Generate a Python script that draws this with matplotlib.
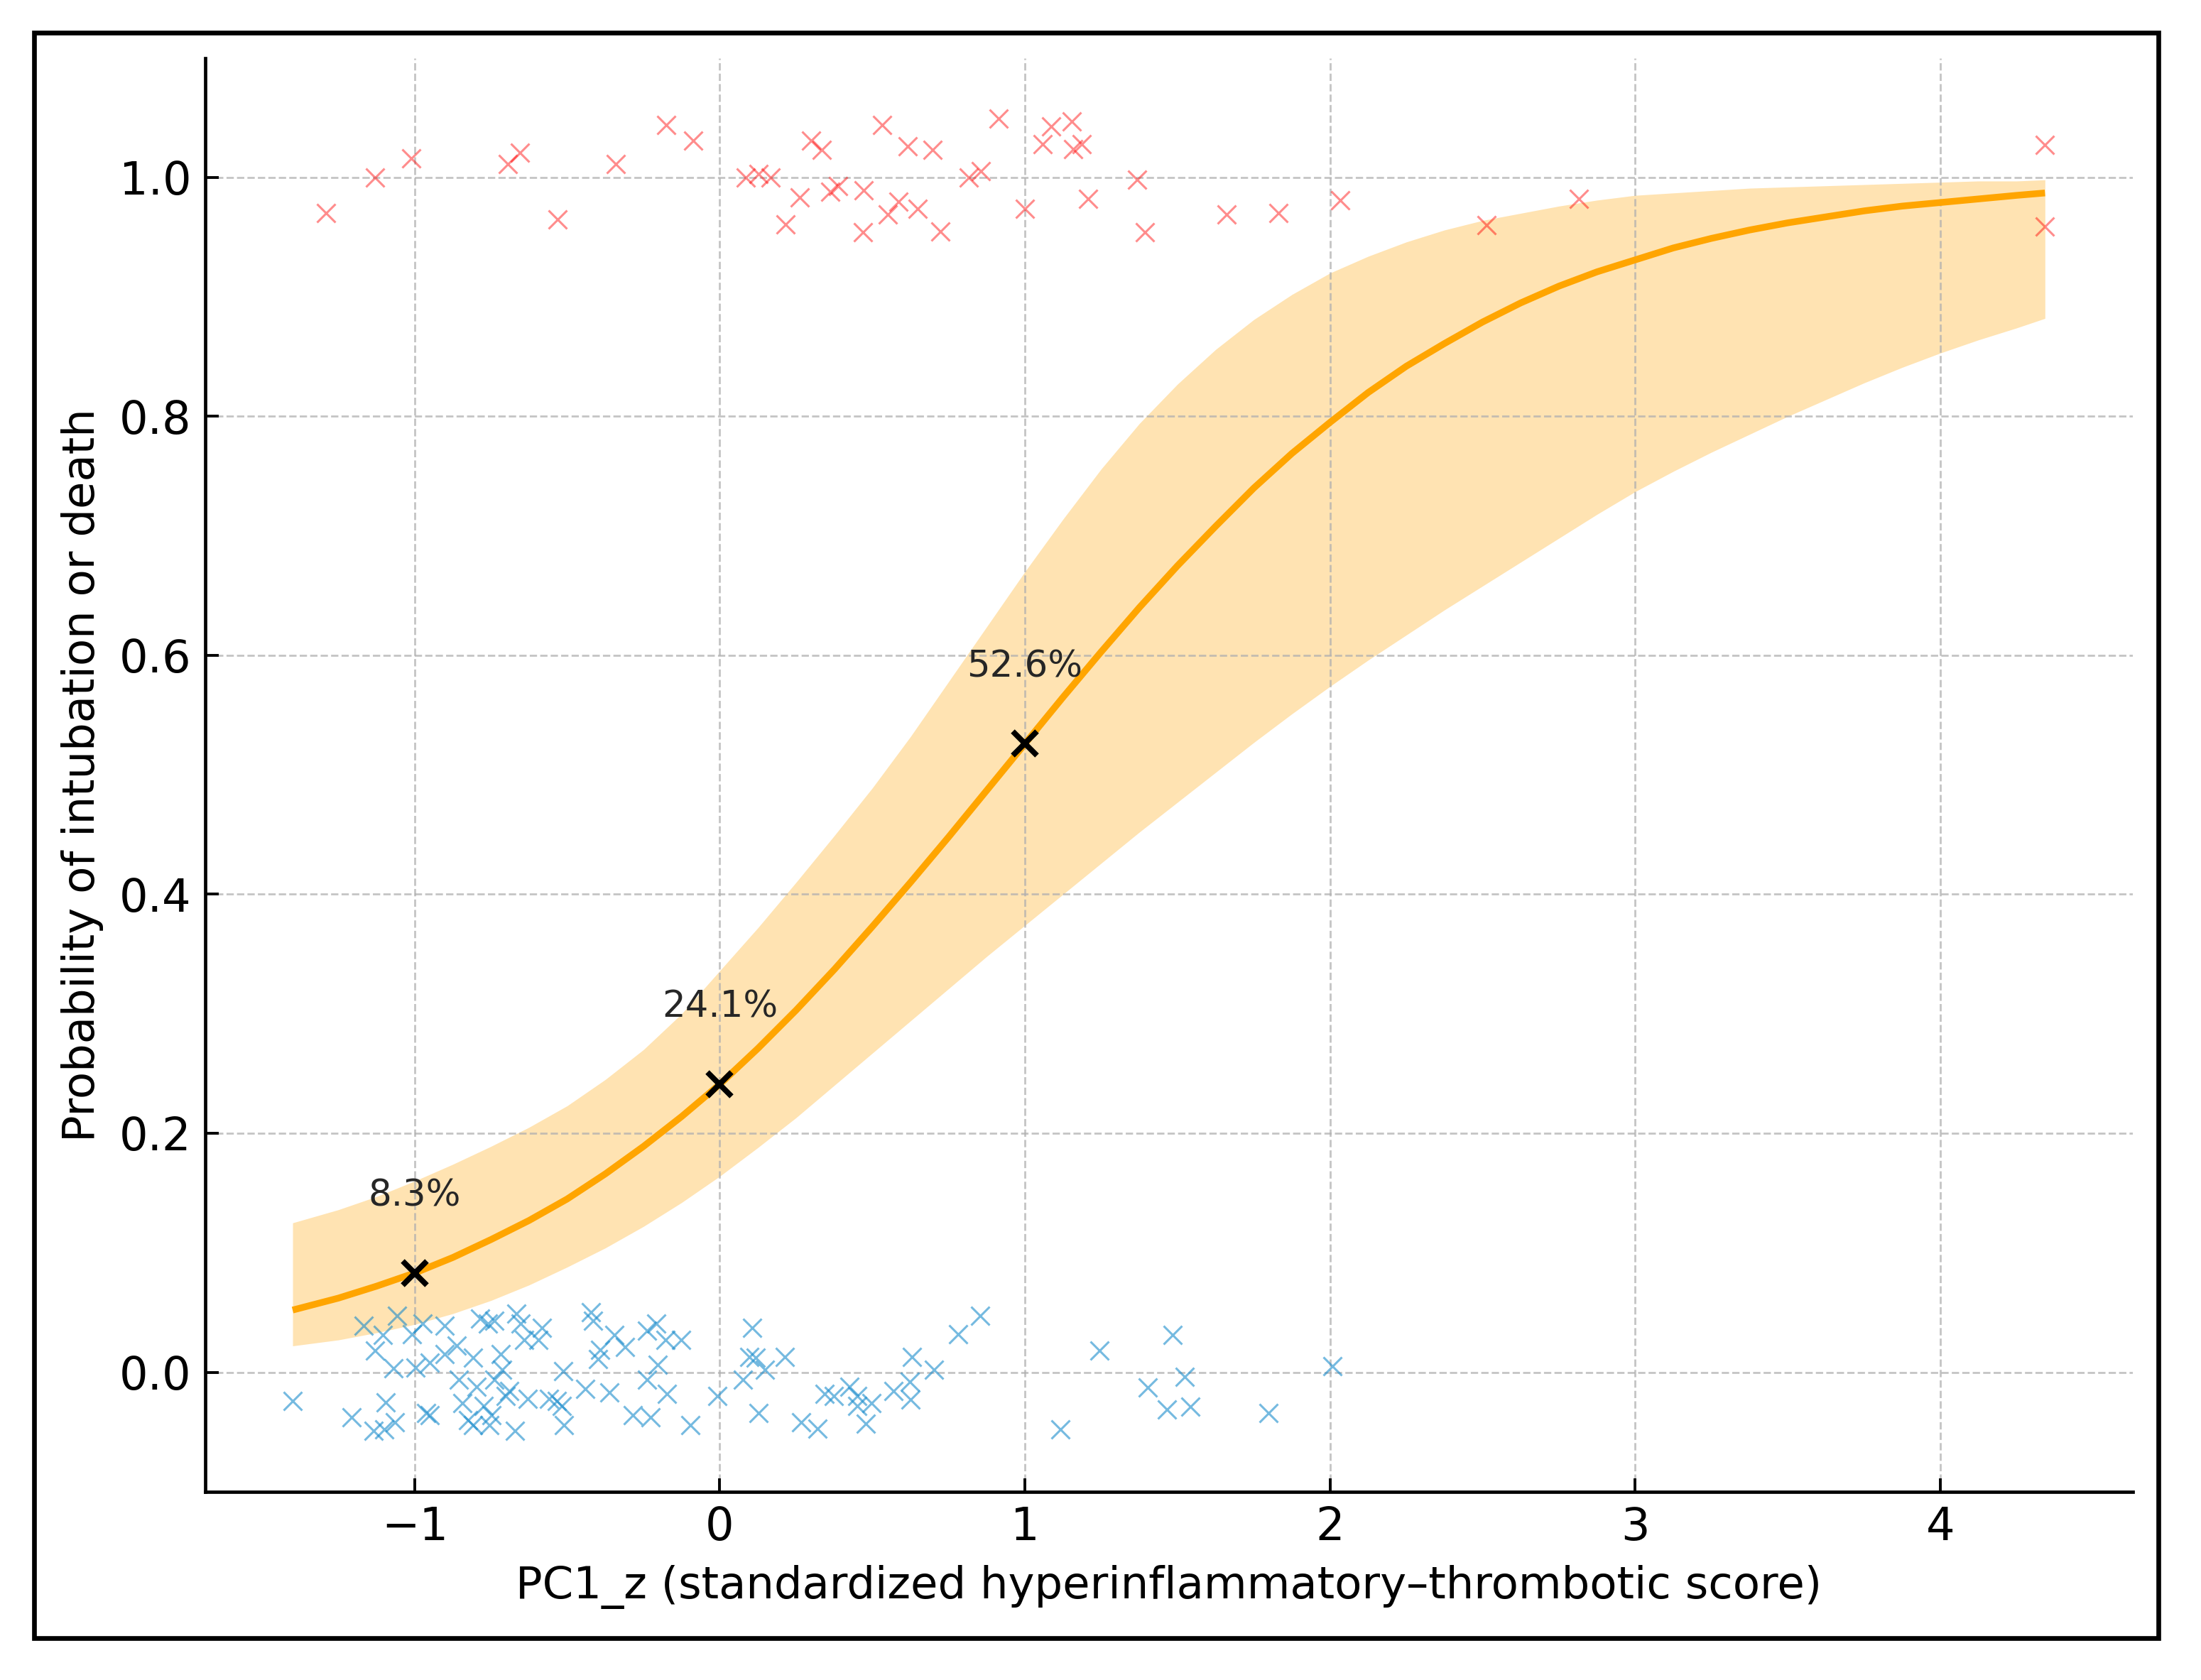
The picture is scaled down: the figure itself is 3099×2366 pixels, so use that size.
"""Logistic fit: probability of intubation/death vs PC1_z"""
import matplotlib
matplotlib.use("Agg")
import matplotlib.pyplot as plt
from matplotlib.patches import Rectangle

# fitted curve and 95% band
CURVE_X = [-1.400, -1.250, -1.125, -1.000, -0.875, -0.750, -0.625, -0.500, -0.375, -0.250,
           -0.125, 0.000, 0.125, 0.250, 0.375, 0.500, 0.625, 0.750, 0.875, 1.000,
           1.125, 1.250, 1.375, 1.500, 1.625, 1.750, 1.875, 2.000, 2.125, 2.250,
           2.375, 2.500, 2.625, 2.750, 2.875, 3.000, 3.125, 3.250, 3.375, 3.500,
           3.625, 3.750, 3.875, 4.000, 4.125, 4.250, 4.343]
CURVE_P = [0.052, 0.062, 0.072, 0.083, 0.096, 0.111, 0.127, 0.145, 0.166, 0.189,
           0.214, 0.241, 0.271, 0.303, 0.337, 0.373, 0.410, 0.448, 0.487, 0.526,
           0.565, 0.603, 0.640, 0.675, 0.708, 0.740, 0.769, 0.795, 0.820, 0.842,
           0.861, 0.879, 0.895, 0.909, 0.921, 0.931, 0.941, 0.949, 0.956, 0.962,
           0.967, 0.972, 0.976, 0.979, 0.982, 0.985, 0.987]
BAND_LO = [0.022, 0.027, 0.033, 0.040, 0.049, 0.060, 0.073, 0.088, 0.104, 0.122,
           0.142, 0.164, 0.188, 0.213, 0.240, 0.267, 0.294, 0.321, 0.348, 0.374,
           0.400, 0.426, 0.452, 0.477, 0.502, 0.527, 0.551, 0.574, 0.596, 0.617,
           0.638, 0.658, 0.678, 0.698, 0.718, 0.737, 0.754, 0.770, 0.785, 0.800,
           0.814, 0.828, 0.841, 0.853, 0.864, 0.874, 0.882]
BAND_HI = [0.125, 0.136, 0.147, 0.160, 0.174, 0.189, 0.205, 0.223, 0.245, 0.270,
           0.300, 0.336, 0.372, 0.410, 0.449, 0.489, 0.532, 0.578, 0.624, 0.670,
           0.714, 0.756, 0.794, 0.827, 0.856, 0.881, 0.902, 0.920, 0.934, 0.946,
           0.956, 0.964, 0.970, 0.976, 0.981, 0.985, 0.987, 0.989, 0.991, 0.992,
           0.993, 0.994, 0.995, 0.996, 0.997, 0.997, 0.998]

# jittered outcomes (event = 1)
EVENT_X = [-1.290, -1.129, -1.011, -0.694, -0.655, -0.531, -0.340, -0.176, -0.088, 0.085,
           0.126, 0.167, 0.216, 0.261, 0.300, 0.333, 0.363, 0.387, 0.469, 0.472,
           0.531, 0.551, 0.586, 0.616, 0.649, 0.697, 0.722, 0.817, 0.856, 0.913,
           0.999, 1.058, 1.087, 1.154, 1.159, 1.187, 1.207, 1.368, 1.392, 1.660,
           1.831, 2.034, 2.513, 2.816, 4.343, 4.343]
EVENT_Y = [0.970, 1.000, 1.016, 1.011, 1.021, 0.965, 1.011, 1.044, 1.031, 1.000,
           1.003, 1.000, 0.961, 0.983, 1.031, 1.023, 0.988, 0.993, 0.954, 0.989,
           1.044, 0.969, 0.980, 1.026, 0.974, 1.023, 0.955, 1.000, 1.005, 1.049,
           0.974, 1.028, 1.043, 1.047, 1.024, 1.028, 0.982, 0.998, 0.954, 0.969,
           0.970, 0.981, 0.960, 0.982, 1.027, 0.959]

# no event = 0
NOEVENT_X = [-1.399, -1.167, -1.058, -1.105, -1.129, -1.010, -0.975, -0.903, -0.903, -0.862,
             -1.070, -0.998, -0.951, -0.808, -0.785, -0.761, -0.738, -0.666, -0.654, -0.642,
             -0.583, -0.594, -0.719, -0.714, -0.856, -0.797, -0.738, -0.690, -0.702, -0.630,
             -0.844, -0.774, -0.963, -0.951, -0.826, -0.808, -0.749, -0.755, -0.672, -1.206,
             -1.135, -1.099, -1.064, -1.096, -0.559, -0.535, -0.517, -0.511, -0.514, -0.440,
             -0.422, -0.416, -0.393, -0.399, -0.345, -0.310, -0.363, -0.286, -0.226, -0.238,
             -0.209, -0.179, -0.126, -0.203, -0.238, -0.173, -0.096, -0.007, 0.106, 0.118,
             0.097, 0.213, 0.148, 0.076, 0.126, 0.266, 0.320, 0.344, 0.374, 0.426,
             0.450, 0.450, 0.497, 0.479, 0.568, 0.622, 0.624, 0.630, 0.701, 0.782,
             0.853, 1.115, 1.245, 1.483, 1.403, 1.524, 1.465, 1.542, 1.797, 2.008]
NOEVENT_Y = [-0.024, 0.039, 0.047, 0.031, 0.018, 0.032, 0.041, 0.039, 0.015, 0.022,
             0.003, 0.004, 0.008, 0.012, 0.045, 0.041, 0.043, 0.049, 0.041, 0.027,
             0.037, 0.027, 0.015, 0.002, -0.006, -0.012, -0.006, -0.016, -0.020, -0.022,
             -0.026, -0.028, -0.034, -0.036, -0.040, -0.044, -0.036, -0.044, -0.049, -0.038,
             -0.049, -0.048, -0.042, -0.025, -0.022, -0.024, -0.028, -0.044, 0.001, -0.014,
             0.050, 0.043, 0.019, 0.011, 0.031, 0.021, -0.017, -0.036, -0.038, 0.035,
             0.041, 0.027, 0.027, 0.006, -0.006, -0.018, -0.044, -0.020, 0.037, 0.012,
             0.013, 0.013, 0.002, -0.006, -0.034, -0.042, -0.047, -0.018, -0.020, -0.012,
             -0.020, -0.028, -0.026, -0.043, -0.016, -0.008, -0.023, 0.0125, 0.002, 0.032,
             0.047, -0.048, 0.018, 0.031, -0.013, -0.004, -0.031, -0.029, -0.034, 0.005]

MARK_X = [-1, 0, 1]
MARK_P = [0.083, 0.241, 0.526]
MARK_LABELS = ["8.3%", "24.1%", "52.6%"]

X_TICKS = [-1, 0, 1, 2, 3, 4]
Y_TICKS = [0.0, 0.2, 0.4, 0.6, 0.8, 1.0]


def main():
    fig = plt.figure(figsize=(15.495, 11.83), dpi=200)
    ax = fig.add_axes([0.0933, 0.1121, 0.8756, 0.8534])

    ax.fill_between(CURVE_X, BAND_LO, BAND_HI, color="orange", alpha=0.3, lw=0, zorder=1)
    ax.plot(NOEVENT_X, NOEVENT_Y, ls="none", marker="x", ms=9.5, mew=1.1,
            color="#1a8ccc", alpha=0.6, zorder=2)
    ax.plot(EVENT_X, EVENT_Y, ls="none", marker="x", ms=9.5, mew=1.1,
            color="red", alpha=0.45, zorder=2)
    ax.plot(CURVE_X, CURVE_P, color="orange", lw=3.4, zorder=3, solid_capstyle="butt",
            solid_joinstyle="round")
    ax.plot(MARK_X, MARK_P, ls="none", marker="x", ms=12.5, mew=2.8, color="black", zorder=4)
    for x, p, s in zip(MARK_X, MARK_P, MARK_LABELS):
        ax.annotate(s, (x, p), xytext=(0, 34), textcoords="offset points",
                    ha="center", va="baseline", fontsize=18.5, color="#262626")

    ax.set_xlim(-1.686, 4.630)
    ax.set_ylim(-0.1, 1.1)
    ax.set_xticks(X_TICKS)
    ax.set_yticks(Y_TICKS)
    ax.grid(True, ls="--", lw=1.0, color="#b0b0b0", alpha=0.75)
    for s in ("top", "right"):
        ax.spines[s].set_visible(False)
    for s in ("left", "bottom"):
        ax.spines[s].set_linewidth(1.7)
    ax.tick_params(direction="in", length=7, width=1.4, labelsize=23, pad=7)
    ax.set_xlabel("PC1_z (standardized hyperinflammatory\u2013thrombotic score)",
                  fontsize=22.5, labelpad=8)
    ax.set_ylabel("Probability of intubation or death", fontsize=22.5, labelpad=8)

    # black frame around the whole picture
    fig.patches.append(Rectangle((0.0155, 0.0249), 0.9653, 0.9557, transform=fig.transFigure,
                                 fill=False, ec="black", lw=2.4))

    fig.savefig("out.png", dpi=200)


if __name__ == "__main__":
    main()
